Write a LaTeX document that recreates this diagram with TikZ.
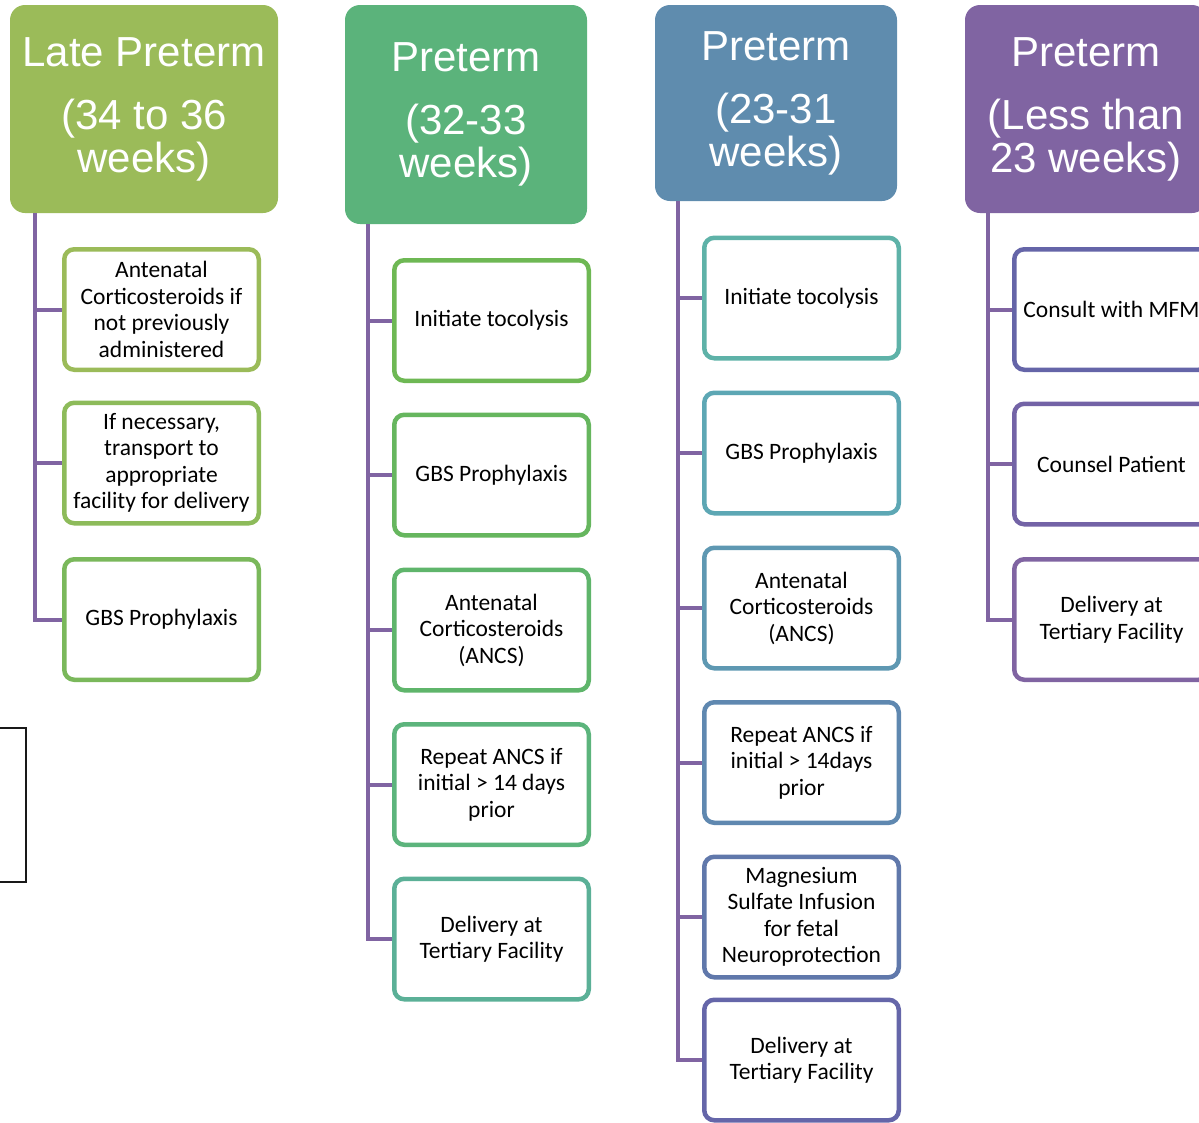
\documentclass[tikz,border=0pt]{standalone}
\usepackage{fontspec}
\setmainfont{Carlito}
\newfontfamily\hdrfont{Liberation Sans}

\definecolor{hone}{HTML}{9BBB59}
\definecolor{htwo}{HTML}{5BB37B}
\definecolor{hthree}{HTML}{5F8CAE}
\definecolor{hfour}{HTML}{8064A2}
\definecolor{spine}{HTML}{8064A2}
\definecolor{atwo}{HTML}{8DBB5A}
\definecolor{athree}{HTML}{7AB85B}
\definecolor{bone}{HTML}{6EB854}
\definecolor{btwo}{HTML}{66B65E}
\definecolor{bthree}{HTML}{5FB56B}
\definecolor{bfour}{HTML}{5CB47C}
\definecolor{bfive}{HTML}{5BB097}
\definecolor{cone}{HTML}{5EB2A8}
\definecolor{ctwo}{HTML}{5DA7B4}
\definecolor{cthree}{HTML}{5E98B2}
\definecolor{cfour}{HTML}{5F88B0}
\definecolor{cfive}{HTML}{6078AB}
\definecolor{csix}{HTML}{6566A9}
\definecolor{done}{HTML}{6565A8}
\definecolor{dtwo}{HTML}{7363A6}

\tikzset{
  hdr/.style={rounded corners=15pt, text=white, align=center, inner sep=0pt,
    font=\hdrfont\fontsize{42}{43}\selectfont},
  item/.style={draw=#1, fill=white, line width=4.5pt, rounded corners=10pt,
    minimum width=194.5pt, minimum height=120.5pt, align=center, inner sep=2pt,
    font=\fontsize{23.5}{26.5}\selectfont},
  trunk/.style={draw=spine, line width=4pt},
}

\begin{document}
\begin{tikzpicture}[x=1pt,y=-1pt]
\useasboundingbox (0,0) rectangle (1199,1122);
\clip (0,0) rectangle (1199,1122);

% headers
\node[hdr, fill=hone, minimum width=268pt, minimum height=208pt] (h1) at (144,109)
  {Late Preterm\\[20pt](34 to 36\\weeks)};
\node[hdr, fill=htwo, minimum width=242pt, minimum height=219pt] (h2) at (466,114.5)
  {Preterm\\[20pt](32-33\\weeks)};
\node[hdr, fill=hthree, minimum width=242pt, minimum height=196pt] (h3) at (776,103)
  {Preterm\\[20pt](23-31\\weeks)};
\node[hdr, fill=hfour, minimum width=242pt, minimum height=208pt] (h4) at (1086,109)
  {Preterm\\[20pt](Less than\\23 weeks)};

% late preterm
\node[item=hone] (a1) at (161.5,309.5) {Antenatal\\Corticosteroids if\\not previously\\administered};
\node[item=atwo] (a2) at (161.5,463) {If necessary,\\transport to\\appropriate\\facility for delivery};
\node[item=athree] (a3) at (161.5,619.5) {GBS Prophylaxis};

% 32-33 weeks
\node[item=bone] (b1) at (491.5,320.5) {Initiate tocolysis};
\node[item=btwo] (b2) at (491.5,475) {GBS Prophylaxis};
\node[item=bthree] (b3) at (491.5,630) {Antenatal\\Corticosteroids\\(ANCS)};
\node[item=bfour] (b4) at (491.5,784.5) {Repeat ANCS if\\initial > 14 days\\prior};
\node[item=bfive] (b5) at (491.5,939) {Delivery at\\Tertiary Facility};

% 23-31 weeks
\node[item=cone] (c1) at (801.5,298) {Initiate tocolysis};
\node[item=ctwo] (c2) at (801.5,453) {GBS Prophylaxis};
\node[item=cthree] (c3) at (801.5,608) {Antenatal\\Corticosteroids\\(ANCS)};
\node[item=cfour] (c4) at (801.5,762.5) {Repeat ANCS if\\initial > 14days\\prior};
\node[item=cfive] (c5) at (801.5,917) {Magnesium\\Sulfate Infusion\\for fetal\\Neuroprotection};
\node[item=csix] (c6) at (801.5,1060) {Delivery at\\Tertiary Facility};

% less than 23 weeks
\node[item=done] (d1) at (1111.5,309.5) {Consult with MFM};
\node[item=dtwo] (d2) at (1111.5,464) {Counsel Patient};
\node[item=hfour] (d3) at (1111.5,619.5) {Delivery at\\Tertiary Facility};

% spines
\coordinate (t1) at ([xshift=25pt]h1.south west);
\coordinate (t2) at ([xshift=23pt]h2.south west);
\coordinate (t3) at ([xshift=23pt]h3.south west);
\coordinate (t4) at ([xshift=23pt]h4.south west);
\draw[trunk] (t1) |- (a3.west);
\foreach \n in {a1,a2} \draw[trunk] (t1 |- \n.west) -- (\n.west);
\draw[trunk] (t2) |- (b5.west);
\foreach \n in {b1,b2,b3,b4} \draw[trunk] (t2 |- \n.west) -- (\n.west);
\draw[trunk] (t3) |- (c6.west);
\foreach \n in {c1,c2,c3,c4,c5} \draw[trunk] (t3 |- \n.west) -- (\n.west);
\draw[trunk] (t4) |- (d3.west);
\foreach \n in {d1,d2} \draw[trunk] (t4 |- \n.west) -- (\n.west);

% stray frame at left
\draw[line width=1.5pt, black!90] (-5,728) rectangle (26,882);
\end{tikzpicture}
\end{document}
